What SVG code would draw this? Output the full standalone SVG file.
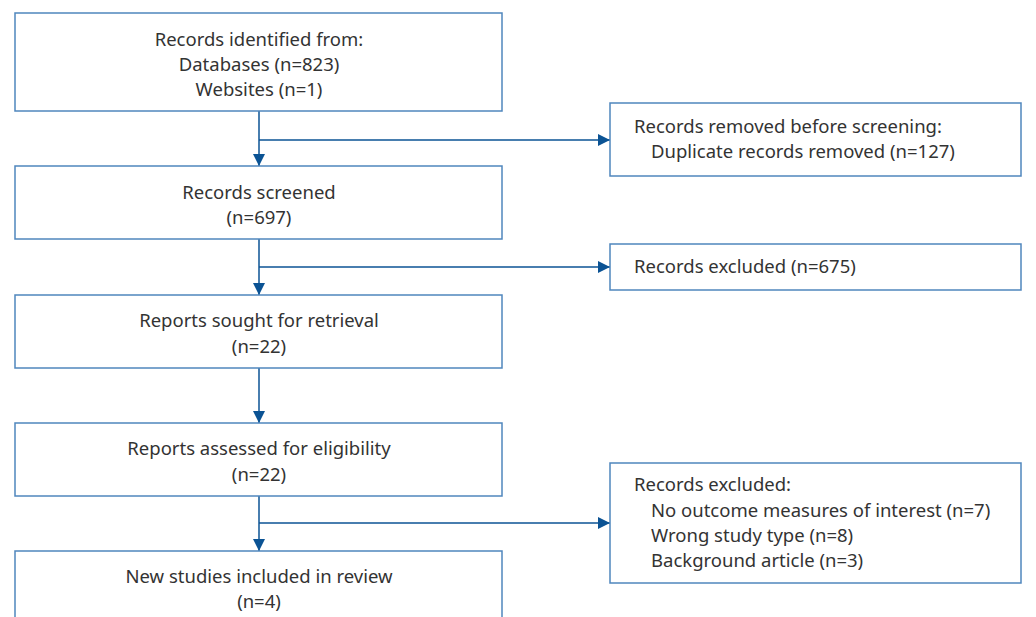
<svg xmlns="http://www.w3.org/2000/svg" width="1036" height="617" viewBox="0 0 1036 617">
<defs>
<marker id="ah" viewBox="0 0 12 12" refX="12" refY="6" markerWidth="12" markerHeight="12" markerUnits="userSpaceOnUse" orient="auto">
<path d="M0,0 L12,6 L0,12 Z" fill="#0b5394"/>
</marker>
<style>
.box{fill:#fff;stroke:#4f86bd;stroke-width:1.5}
.t{font-family:"Noto Sans","Liberation Sans",sans-serif;font-size:18.5px;fill:#333}
.c{text-anchor:middle}
.ln{fill:none;stroke:#0b5394;stroke-width:1.5}
</style>
</defs>
<rect width="1036" height="617" fill="#fff"/>
<g id="connectors">
<line class="ln" x1="259" y1="111" x2="259" y2="166" marker-end="url(#ah)"/>
<line class="ln" x1="259" y1="140" x2="610" y2="140" marker-end="url(#ah)"/>
<line class="ln" x1="259" y1="239" x2="259" y2="295" marker-end="url(#ah)"/>
<line class="ln" x1="259" y1="267" x2="610" y2="267" marker-end="url(#ah)"/>
<line class="ln" x1="259" y1="368" x2="259" y2="423" marker-end="url(#ah)"/>
<line class="ln" x1="259" y1="496" x2="259" y2="551" marker-end="url(#ah)"/>
<line class="ln" x1="259" y1="523" x2="610" y2="523" marker-end="url(#ah)"/>
</g>
<g id="identified">
<rect class="box" x="15" y="13" width="487" height="98"/>
<text class="t c" x="259" y="46">Records identified from:</text>
<text class="t c" x="259" y="71">Databases (n=823)</text>
<text class="t c" x="259" y="96">Websites (n=1)</text>
</g>
<g id="screened">
<rect class="box" x="15" y="166" width="487" height="73"/>
<text class="t c" x="259" y="199">Records screened</text>
<text class="t c" x="259" y="224">(n=697)</text>
</g>
<g id="sought">
<rect class="box" x="15" y="295" width="487" height="73"/>
<text class="t c" x="259" y="327">Reports sought for retrieval</text>
<text class="t c" x="259" y="353">(n=22)</text>
</g>
<g id="assessed">
<rect class="box" x="15" y="423" width="487" height="73"/>
<text class="t c" x="259" y="455">Reports assessed for eligibility</text>
<text class="t c" x="259" y="481">(n=22)</text>
</g>
<g id="included">
<rect class="box" x="15" y="551" width="487" height="80"/>
<text class="t c" x="259" y="583">New studies included in review</text>
<text class="t c" x="259" y="608">(n=4)</text>
</g>
<g id="removed">
<rect class="box" x="610" y="103" width="411" height="73"/>
<text class="t" x="634" y="133">Records removed before screening:</text>
<text class="t" x="651" y="158">Duplicate records removed (n=127)</text>
</g>
<g id="excluded1">
<rect class="box" x="610" y="244" width="411" height="46"/>
<text class="t" x="634" y="273">Records excluded (n=675)</text>
</g>
<g id="excluded2">
<rect class="box" x="610" y="463" width="411" height="120"/>
<text class="t" x="634" y="491">Records excluded:</text>
<text class="t" x="651" y="517">No outcome measures of interest (n=7)</text>
<text class="t" x="651" y="542">Wrong study type (n=8)</text>
<text class="t" x="651" y="567">Background article (n=3)</text>
</g>
</svg>
